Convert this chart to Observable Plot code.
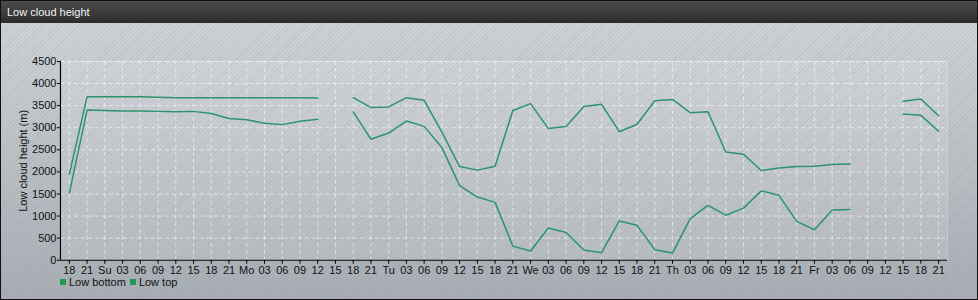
<!DOCTYPE html>
<html>
<head>
<meta charset="utf-8">
<script src="https://cdn.jsdelivr.net/npm/d3@7"></script>
<script src="https://cdn.jsdelivr.net/npm/@observablehq/plot@0.6"></script>
<style>
  html, body { margin: 0; padding: 0; background: #222; }
  #wrap {
    position: relative; width: 976px; height: 298px; overflow: hidden;
    border: 1px solid #111;
    font-family: "Liberation Sans", Arial, sans-serif;
    background:
      repeating-linear-gradient(135deg, rgba(110,120,140,0.13) 0px, rgba(110,120,140,0.13) 1px, rgba(255,255,255,0) 1px, rgba(255,255,255,0) 3px),
      linear-gradient(#d2d6da, #a8aeb4);
  }
  #title {
    position: absolute; left: 0; top: 0; width: 976px; height: 22px;
    background: linear-gradient(#4c4c4c, #2c2c2c);
    color: #f2f2f2; font-size: 11px; line-height: 22px; padding-left: 6px; box-sizing: border-box;
  }
  #chart { position: absolute; left: -1px; top: 21px; }
  #legend {
    position: absolute; left: 59px; top: 275px; font-size: 11px; color: #111;
    display: flex; align-items: center;
  }
  #legend .sw { display: inline-block; width: 6px; height: 6px; background: #1f9a50; margin-right: 3px; }
  #legend .it { display: flex; align-items: center; margin-right: 4px; }
</style>
</head>
<body>
<div id="wrap">
  <div id="title">Low cloud height</div>
  <div id="chart"></div>
  <div id="legend"></div>
</div>
<script>
const tickLabels = ["18","21","Su","03","06","09","12","15","18","21",
  "Mo","03","06","09","12","15","18","21",
  "Tu","03","06","09","12","15","18","21",
  "We","03","06","09","12","15","18","21",
  "Th","03","06","09","12","15","18","21",
  "Fr","03","06","09","12","15","18","21"];
const seriesNames = ["Low bottom", "Low top"];
const lowTop = [1950,3700,3700,3700,3700,3690,3680,3680,3680,3680,3680,3680,3680,3680,3670,
  null,
  3680,3460,3470,3680,3620,2900,2120,2040,2130,3390,3545,2980,3030,3480,3530,2910,3080,3610,3640,3340,3360,2450,2400,2030,2090,2120,2130,2170,2180,
  null,null,
  3600,3650,3270];
const lowBottom = [1520,3400,3390,3380,3380,3370,3360,3370,3320,3210,3180,3100,3070,3145,3190,
  null,
  3360,2740,2880,3150,3030,2550,1690,1430,1310,320,210,730,630,230,170,890,790,240,165,940,1240,1020,1180,1570,1470,880,690,1140,1150,
  null,null,
  3310,3280,2920];
const yTicks = [0,500,1000,1500,2000,2500,3000,3500,4000,4500];

const color = "#2b946a";
const idx = tickLabels.map((_, i) => i);
const topData = lowTop.map((v, i) => ({i, v}));
const botData = lowBottom.map((v, i) => ({i, v}));

const chart = Plot.plot({
  width: 978, height: 260,
  marginLeft: 60, marginRight: 30, marginTop: 39, marginBottom: 22,
  style: {background: "transparent", fontFamily: "'Liberation Sans', Arial, sans-serif", fontSize: "11px", color: "#111", overflow: "visible"},
  x: {domain: [-0.5, 49.5], axis: null},
  y: {domain: [0, 4500], axis: null},
  marks: [
    Plot.frame({fill: "rgba(255,255,255,0.12)", stroke: "rgba(255,255,255,0.25)"}),
    Plot.gridX(idx, {stroke: "#fff", strokeOpacity: 0.55, strokeDasharray: "4,3"}),
    Plot.gridY(yTicks.slice(1), {stroke: "#fff", strokeOpacity: 0.55, strokeDasharray: "4,3"}),
    Plot.line(botData, {x: "i", y: "v", stroke: color, strokeWidth: 1.5, defined: d => d.v != null}),
    Plot.line(topData, {x: "i", y: "v", stroke: color, strokeWidth: 1.5, defined: d => d.v != null}),
    Plot.ruleY([0], {stroke: "#000", strokeWidth: 1.2}),
    Plot.ruleX([-0.5], {stroke: "#000", strokeWidth: 1.2}),
    Plot.axisX(idx, {tickFormat: i => tickLabels[i], tickSize: 4, tickPadding: 2, stroke: "#000", fill: "#111", fontSize: 11, label: null}),
    Plot.axisY(yTicks, {tickFormat: d => String(d), tickSize: 3, tickPadding: 1, stroke: "#000", fill: "#111", fontSize: 11, label: null}),
    Plot.text(["Low cloud height (m)"], {frameAnchor: "left", rotate: -90, dx: -37, textAnchor: "middle", fill: "#111", fontSize: 11})
  ]
});
document.getElementById("chart").appendChild(chart);

const legend = document.getElementById("legend");
seriesNames.forEach(n => {
  const it = document.createElement("span");
  it.className = "it";
  it.innerHTML = `<span class="sw"></span><span>${n}</span>`;
  legend.appendChild(it);
});
</script>
</body>
</html>
